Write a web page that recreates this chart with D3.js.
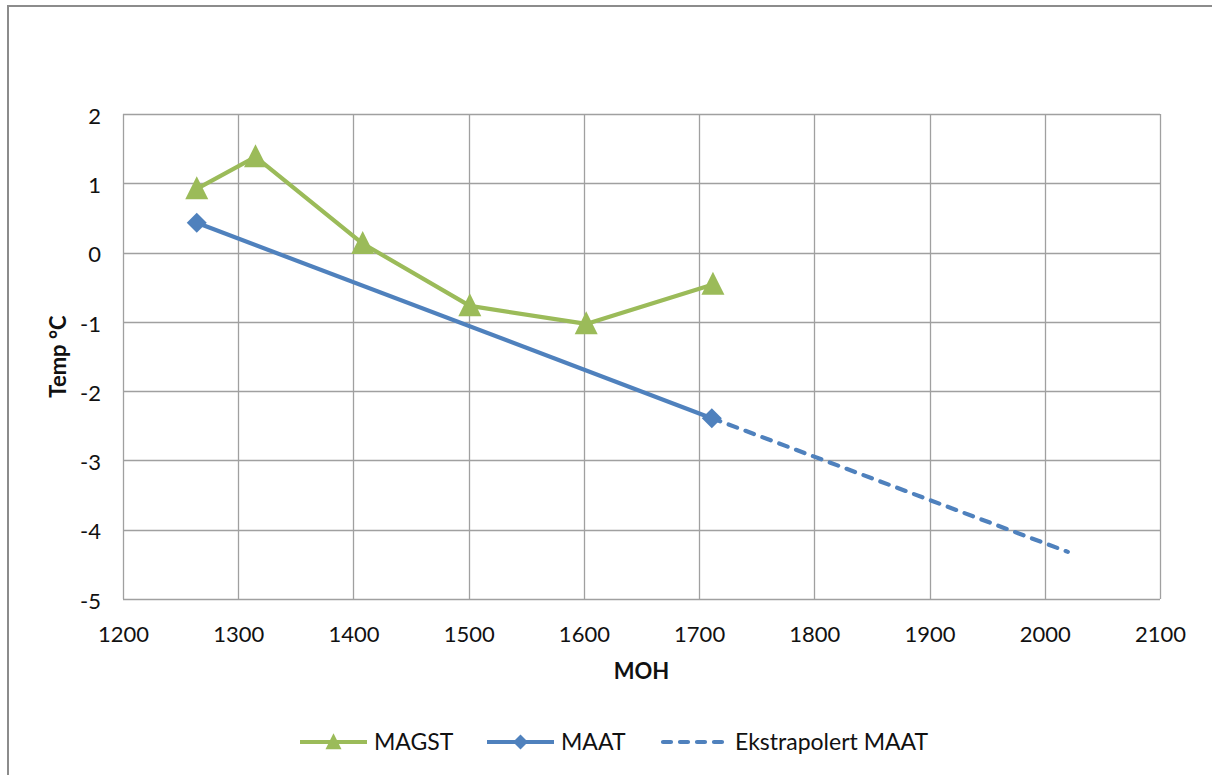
<!DOCTYPE html>
<html>
<head>
<meta charset="utf-8">
<script src="https://cdn.jsdelivr.net/npm/d3@7"></script>
<style>
  html, body { margin: 0; padding: 0; background: #fff; }
  svg { display: block; font-family: Lato, "Open Sans", sans-serif; }
</style>
</head>
<body>
<svg id="chart" width="1212" height="775"></svg>
<script>
// ---- data ----
const magstMoh  = [1264, 1315, 1408, 1501, 1602, 1712];
const magstTemp = [0.92, 1.38, 0.13, -0.77, -1.03, -0.46];
const maatMoh   = [1264, 1711];
const maatTemp  = [0.43, -2.39];
const extraMoh  = [1711, 2020];
const extraTemp = [-2.39, -4.32];
const xTicks = [1200, 1300, 1400, 1500, 1600, 1700, 1800, 1900, 2000, 2100];
const yTicks = [2, 1, 0, -1, -2, -3, -4, -5];
const seriesNames = ["MAGST", "MAAT", "Ekstrapolert MAAT"];
const xTitle = "MOH";
const yTitle = "Temp °C";

const green = "#9BBB59", blue = "#4F81BD";

const svg = d3.select("#chart");
const plot = { left: 123, right: 1160, top: 114, bottom: 599 };

const x = d3.scaleLinear().domain([1200, 2100]).range([plot.left, plot.right]);
const y = d3.scaleLinear().domain([-5, 2]).range([plot.bottom, plot.top]);

// outer chart border
svg.append("rect")
  .attr("x", 8).attr("y", 6).attr("width", 1220).attr("height", 790)
  .attr("fill", "none").attr("stroke", "#8c8c8c").attr("stroke-width", 2);

// gridlines
const grid = svg.append("g");
grid.selectAll("line.v").data(xTicks).join("line")
  .attr("x1", d => Math.round(x(d)) + 0.5).attr("x2", d => Math.round(x(d)) + 0.5)
  .attr("y1", plot.top).attr("y2", plot.bottom)
  .attr("stroke", "#a0a0a0").attr("stroke-width", 1.3);
grid.selectAll("line.h").data(yTicks).join("line")
  .attr("y1", d => Math.round(y(d)) + 0.5).attr("y2", d => Math.round(y(d)) + 0.5)
  .attr("x1", plot.left).attr("x2", plot.right)
  .attr("stroke", "#a0a0a0").attr("stroke-width", 1.3);

// axes labels via d3 axes (ticks hidden, domain hidden)
const xAxis = svg.append("g").attr("transform", `translate(0,${plot.bottom})`)
  .call(d3.axisBottom(x).tickValues(xTicks).tickSize(0).tickPadding(27).tickFormat(d3.format("d")));
xAxis.select(".domain").remove();
xAxis.selectAll("text").attr("font-size", 22).attr("font-family", "Lato, sans-serif").attr("fill", "#111");

const yAxis = svg.append("g").attr("transform", `translate(${plot.left},0)`)
  .call(d3.axisLeft(y).tickValues(yTicks).tickSize(0).tickPadding(22).tickFormat(d => d < 0 ? "-" + Math.abs(d) : d));
yAxis.select(".domain").remove();
yAxis.selectAll("text").attr("font-size", 22).attr("font-family", "Lato, sans-serif").attr("fill", "#111").attr("dy", "0.42em");

// axis titles
svg.append("text").attr("x", (plot.left + plot.right) / 2).attr("y", 679)
  .attr("text-anchor", "middle").attr("font-size", 22).attr("font-weight", "bold").attr("fill", "#111")
  .text(xTitle);
svg.append("text").attr("transform", `translate(66,${(plot.top + plot.bottom) / 2}) rotate(-90)`)
  .attr("text-anchor", "middle").attr("font-size", 22).attr("font-weight", "bold").attr("fill", "#111")
  .text(yTitle);

// lines
const line = d3.line().x(d => x(d[0])).y(d => y(d[1]));
const magst = magstMoh.map((m, i) => [m, magstTemp[i]]);
const maat = maatMoh.map((m, i) => [m, maatTemp[i]]);
const extra = extraMoh.map((m, i) => [m, extraTemp[i]]);

svg.append("path").datum(extra).attr("d", line)
  .attr("fill", "none").attr("stroke", blue).attr("stroke-width", 4.2)
  .attr("stroke-dasharray", "9,9").attr("stroke-linecap", "round");
svg.append("path").datum(maat).attr("d", line)
  .attr("fill", "none").attr("stroke", blue).attr("stroke-width", 4.2).attr("stroke-linejoin", "round");
svg.append("path").datum(magst).attr("d", line)
  .attr("fill", "none").attr("stroke", green).attr("stroke-width", 4.2).attr("stroke-linejoin", "round");

// markers
const tri = (s) => `M0,${-s * 0.55}L${s / 2},${s * 0.45}L${-s / 2},${s * 0.45}Z`;
const dia = (s) => `M0,${-s / 2}L${s / 2},0L0,${s / 2}L${-s / 2},0Z`;
svg.append("g").selectAll("path").data(magst).join("path")
  .attr("transform", d => `translate(${x(d[0])},${y(d[1])})`)
  .attr("d", tri(23)).attr("fill", green);
svg.append("g").selectAll("path").data(maat).join("path")
  .attr("transform", d => `translate(${x(d[0])},${y(d[1])})`)
  .attr("d", dia(20)).attr("fill", blue);

// legend
const legendY = 742;
const legendItems = [
  { name: seriesNames[0], x0: 300, color: green, marker: tri(16), dash: null },
  { name: seriesNames[1], x0: 487, color: blue, marker: dia(15), dash: null },
  { name: seriesNames[2], x0: 661, color: blue, marker: null, dash: "8,9" }
];
const lg = svg.append("g").selectAll("g").data(legendItems).join("g");
lg.append("line")
  .attr("x1", d => d.x0 + (d.dash ? 2 : 0)).attr("x2", d => d.x0 + (d.dash ? 66 : 67))
  .attr("y1", legendY).attr("y2", legendY)
  .attr("stroke", d => d.color).attr("stroke-width", 4.2)
  .attr("stroke-dasharray", d => d.dash).attr("stroke-linecap", d => d.dash ? "round" : "butt");
lg.filter(d => d.marker).append("path")
  .attr("transform", d => `translate(${d.x0 + 33.5},${legendY})`)
  .attr("d", d => d.marker).attr("fill", d => d.color);
lg.append("text").attr("x", d => d.x0 + 74).attr("y", legendY).attr("dy", "0.36em")
  .attr("font-size", 23).attr("fill", "#111").text(d => d.name);
</script>
</body>
</html>
